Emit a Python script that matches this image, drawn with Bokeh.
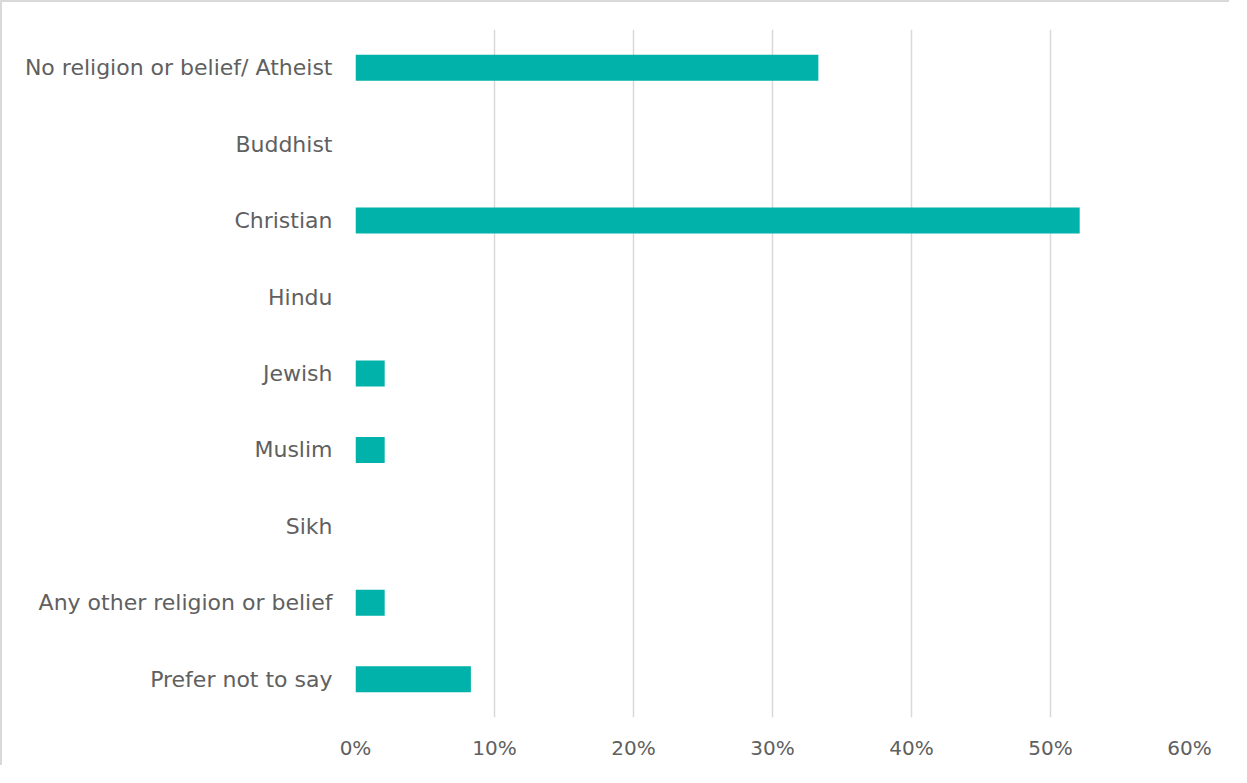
from bokeh.plotting import figure
from bokeh.models import FactorRange, NumeralTickFormatter, FixedTicker, Range1d
from bokeh.embed import file_html
from bokeh.resources import INLINE

categories = ["No religion or belief/ Atheist", "Buddhist", "Christian", "Hindu",
              "Jewish", "Muslim", "Sikh", "Any other religion or belief", "Prefer not to say"]
values = [0.333, 0.0, 0.521, 0.0, 0.021, 0.021, 0.0, 0.021, 0.083]
x_ticks = [0, 0.1, 0.2, 0.3, 0.4, 0.5, 0.6]

FONT = "DejaVu Sans"
TEXT = "#606060"
GRID = "#d9d9d9"

p = figure(width=1229, height=765, output_backend="svg", toolbar_location=None,
           y_range=FactorRange(*list(reversed(categories)), range_padding=0),
           x_range=Range1d(0, 0.6),
           min_border_left=353, min_border_right=42, min_border_top=27, min_border_bottom=50)

p.hbar(y=categories, right=values, left=0, height=0.34, fill_color="#00B2A9", line_color=None)

p.xaxis.ticker = FixedTicker(ticks=x_ticks)
p.xaxis.formatter = NumeralTickFormatter(format="0%")
p.xaxis.axis_line_color = None
p.xaxis.major_tick_line_color = None
p.xaxis.minor_tick_line_color = None
p.xaxis.major_label_standoff = 12
p.xaxis.major_label_text_font = FONT
p.xaxis.major_label_text_font_size = "20px"
p.xaxis.major_label_text_color = TEXT

p.yaxis.axis_line_color = None
p.yaxis.major_tick_line_color = None
p.yaxis.minor_tick_line_color = None
p.yaxis.major_label_standoff = 17
p.yaxis.major_label_text_font = FONT
p.yaxis.major_label_text_font_size = "22px"
p.yaxis.major_label_text_color = TEXT

p.xgrid.grid_line_color = GRID
p.xgrid.grid_line_width = 1.5
p.ygrid.grid_line_color = None
p.outline_line_color = None
p.styles = {"border-top": "2px solid #d9d9d9", "border-left": "2px solid #d9d9d9"}

open("out.html", "w").write(file_html(p, INLINE))
